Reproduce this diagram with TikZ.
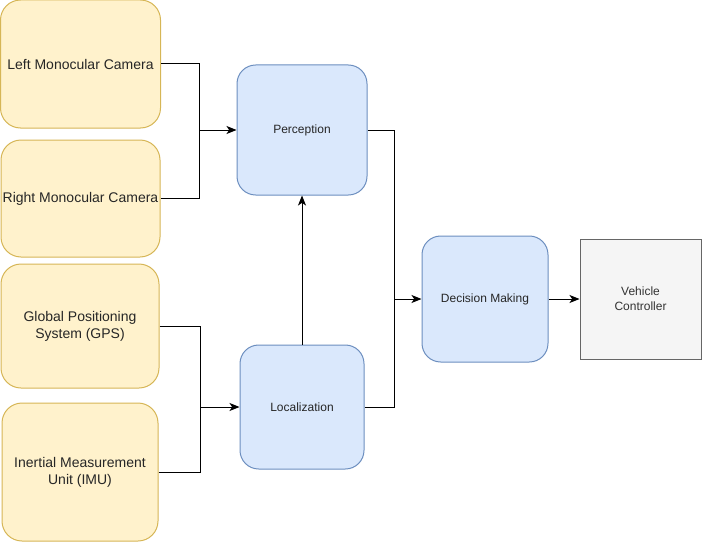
\documentclass[tikz,border=0pt]{standalone}
\usepackage{fontspec}
\setmainfont{Liberation Sans}
\usetikzlibrary{arrows.meta}
\definecolor{ylwfill}{HTML}{FFF2CC}
\definecolor{ylwline}{HTML}{D6B656}
\definecolor{bluefill}{HTML}{DAE8FC}
\definecolor{blueline}{HTML}{6C8EBF}
\definecolor{grayfill}{HTML}{F5F5F5}
\definecolor{grayline}{HTML}{666666}
\definecolor{graytext}{HTML}{333333}
\tikzset{
  sensor/.style={draw=ylwline, fill=ylwfill, rounded corners=15pt, line width=0.75pt,
    inner sep=0pt, align=center, text=black!85,
    font=\fontsize{10.5pt}{12.75pt}\selectfont},
  module/.style={draw=blueline, fill=bluefill, rounded corners=14pt, line width=0.75pt,
    inner sep=0pt, align=center, text=black!85,
    font=\fontsize{9pt}{11pt}\selectfont},
  ctrlbox/.style={draw=grayline, fill=grayfill, line width=0.75pt,
    inner sep=0pt, align=center, text=graytext,
    font=\fontsize{9pt}{11.25pt}\selectfont},
  link/.style={draw=black, line width=0.75pt},
  arrowlink/.style={link, -{Stealth[length=7.5pt,width=6pt,inset=2pt]}}
}
\begin{document}
\begin{tikzpicture}[x=0.75pt,y=-0.75pt]
\useasboundingbox (0,0) rectangle (702,542);
% sensors
\node[sensor, minimum width=160*0.75pt, minimum height=128*0.75pt] (lcam) at (80.5,64) {Left Monocular Camera};
\node[sensor, minimum width=159*0.75pt, minimum height=117*0.75pt] (rcam) at (80.5,198.5) {Right Monocular Camera};
\node[sensor, minimum width=158*0.75pt, minimum height=124*0.75pt] (gps) at (80,326) {Global Positioning\\System (GPS)};
\node[sensor, minimum width=156*0.75pt, minimum height=138*0.75pt] (imu) at (80,472) {Inertial Measurement\\Unit (IMU)};
% modules
\node[module, minimum width=130*0.75pt, minimum height=130*0.75pt] (perc) at (302,130) {Perception};
\node[module, minimum width=124*0.75pt, minimum height=124*0.75pt] (loc) at (302,407) {Localization};
\node[module, minimum width=126*0.75pt, minimum height=126*0.75pt] (dec) at (485,299) {Decision Making};
\node[ctrlbox, minimum width=121*0.75pt, minimum height=120*0.75pt] (ctrl) at (640.5,299) {Vehicle\\Controller};
% junctions
\coordinate (jcam) at (199,130);
\coordinate (jloc) at (200,407);
\coordinate (jdec) at (394,299);
% connectors
\draw[arrowlink] (lcam.east) -| (jcam) -- (perc.west);
\draw[link] (rcam.east) -| (jcam);
\draw[arrowlink] (gps.east) -| (jloc) -- (loc.west);
\draw[link] (imu.east) -| (jloc);
\draw[arrowlink] (loc.north) -- (perc.south);
\draw[arrowlink] (perc.east) -| (jdec) -- (dec.west);
\draw[link] (loc.east) -| (jdec);
\draw[arrowlink] (dec.east) -- (ctrl.west);
\end{tikzpicture}
\end{document}
